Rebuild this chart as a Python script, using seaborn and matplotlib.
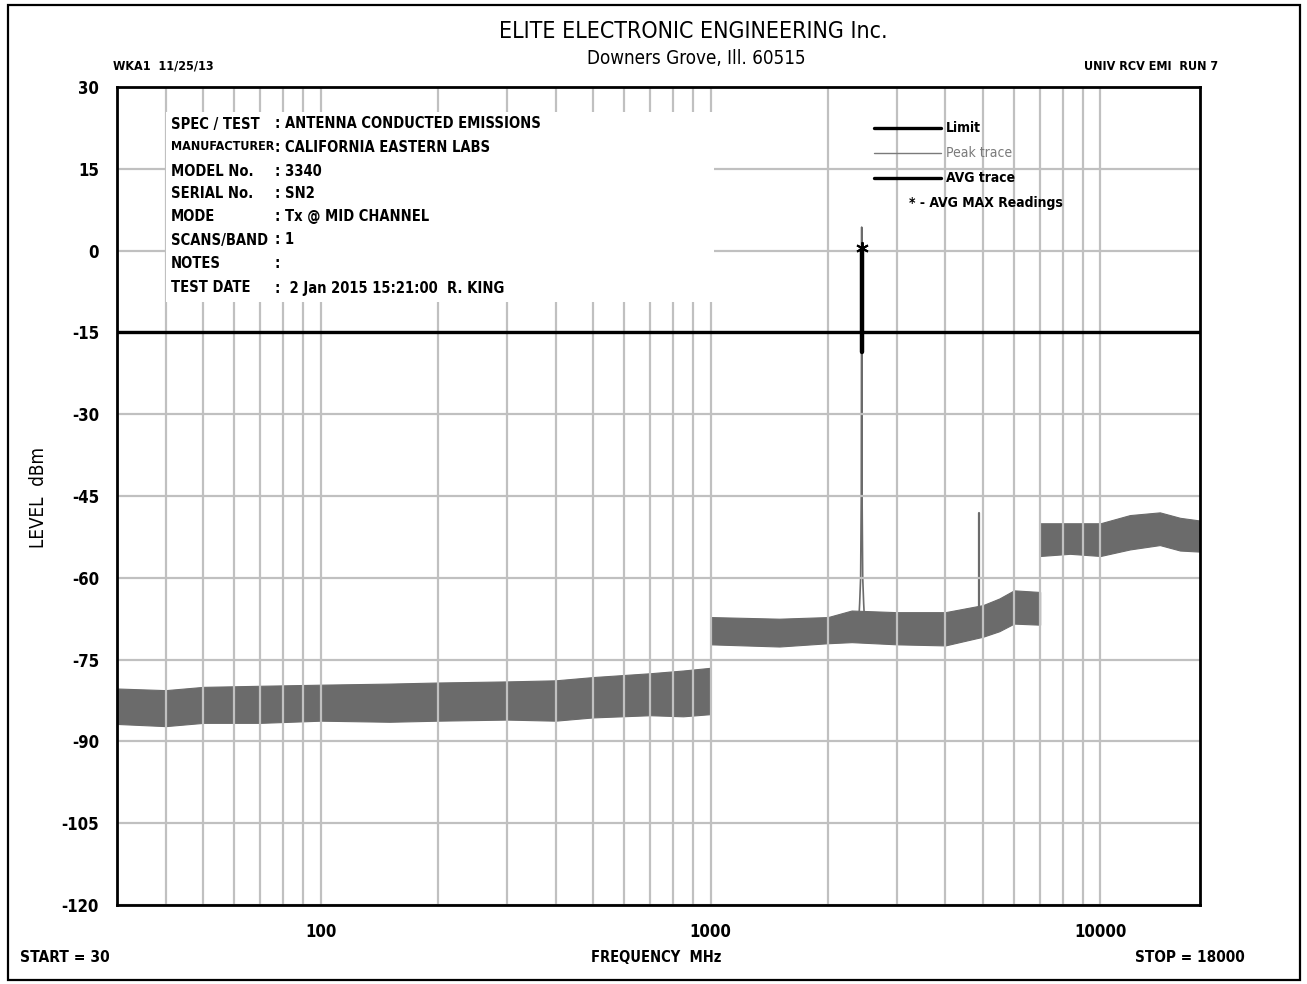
import matplotlib
matplotlib.use("Agg")
import matplotlib.pyplot as plt
import seaborn as sns
import pandas as pd
import numpy as np
from matplotlib.patches import Rectangle

# ---------------- data ----------------
seg1_freq = [30, 40, 50, 70, 100, 150, 200, 300, 400, 500, 700, 850, 1000]
seg1_upper = [-80.3, -80.6, -80.0, -79.8, -79.6, -79.4, -79.2, -79.0, -78.8, -78.2, -77.5, -77.0, -76.5]
seg1_lower = [-86.8, -87.2, -86.6, -86.6, -86.2, -86.4, -86.2, -86.0, -86.2, -85.6, -85.2, -85.4, -85.0]

seg2_freq = [1000, 1500, 2000, 2300, 3000, 4000, 5000, 5500, 6000, 7000]
seg2_upper = [-67.2, -67.5, -67.2, -66.0, -66.3, -66.3, -65.0, -63.8, -62.3, -62.6]
seg2_lower = [-72.2, -72.6, -72.0, -71.8, -72.2, -72.4, -70.8, -69.8, -68.4, -68.6]

seg3_freq = [7000, 8350, 10000, 11900, 14200, 16000, 18000]
seg3_upper = [-50.0, -50.0, -50.0, -48.5, -48.0, -49.0, -49.5]
seg3_lower = [-56.0, -55.6, -56.0, -54.8, -54.0, -55.0, -55.2]

carrier_freq = [2390, 2411, 2425, 2434, 2440, 2446, 2455, 2469, 2490]
carrier_peak = [-70.0, -64.7, -60.0, -45.0, 4.3, -45.0, -60.0, -64.7, -70.0]

harmonic_freq = [4880, 4880]
harmonic_peak = [-66.0, -48.2]

avg_freq = [2440, 2440]
avg_level = [-18.6, 0.5]

avg_max_freq = [2440]
avg_max_level = [0.5]

limit_freq = [30, 18000]
limit_level = [-15, -15]

y_ticks = [30, 15, 0, -15, -30, -45, -60, -75, -90, -105, -120]
x_major = [100, 1000, 10000]
x_major_labels = ["100", "1000", "10000"]
x_minor = [40, 50, 60, 70, 80, 90, 200, 300, 400, 500, 600, 700, 800, 900,
           2000, 3000, 4000, 5000, 6000, 7000, 8000, 9000]

info_labels = ["SPEC / TEST", "MANUFACTURER", "MODEL No.", "SERIAL No.", "MODE",
               "SCANS/BAND", "NOTES", "TEST DATE"]
info_values = [": ANTENNA CONDUCTED EMISSIONS", ": CALIFORNIA EASTERN LABS", ": 3340",
               ": SN2", ": Tx @ MID CHANNEL", ": 1", ":", ":  2 Jan 2015 15:21:00  R. KING"]

# ---------------- style ----------------
sns.set_style("white")
plt.rcParams["font.family"] = ["DejaVu Sans"]
plt.rcParams["font.stretch"] = "condensed"
plt.rcParams["text.color"] = "black"
plt.rcParams["xtick.color"] = "black"
plt.rcParams["ytick.color"] = "black"

W, H = 1307, 984
fig = plt.figure(figsize=(W / 100, H / 100), dpi=100)
fig.patch.set_facecolor("white")

L, R, T, B = 117, 1200, 87, 905
ax = fig.add_axes([L / W, 1 - B / H, (R - L) / W, (B - T) / H])
ax.set_xscale("log")
ax.set_xlim(30, 18000)
ax.set_ylim(-120, 30)

GRID = "#c0c0c0"
BAND = "#6b6b6b"

# noise bands (peak trace envelope)
for f, up, lo in [(seg1_freq, seg1_upper, seg1_lower),
                  (seg2_freq, seg2_upper, seg2_lower),
                  (seg3_freq, seg3_upper, seg3_lower)]:
    ax.fill_between(f, lo, up, color=BAND, lw=0.8, edgecolor=BAND, zorder=1)

# carrier and harmonic on peak trace
sns.lineplot(x=carrier_freq, y=carrier_peak, ax=ax, color=BAND, lw=1.2,
             estimator=None, sort=False, zorder=2)
sns.lineplot(x=harmonic_freq, y=harmonic_peak, ax=ax, color=BAND, lw=1.6,
             estimator=None, sort=False, zorder=2)

# grid drawn over the traces
ax.set_xticks(x_major)
ax.set_xticklabels(x_major_labels)
ax.set_xticks(x_minor, minor=True)
ax.set_xticklabels([], minor=True)
ax.set_yticks(y_ticks)
ax.set_yticklabels([str(v) for v in y_ticks])
ax.set_axisbelow(False)
ax.grid(which="both", axis="x", color=GRID, lw=1.6)
ax.grid(which="major", axis="y", color=GRID, lw=1.6)
ax.tick_params(which="both", length=0)
ax.tick_params(axis="y", pad=13, labelsize=12)
ax.tick_params(axis="x", pad=13, labelsize=12)
for lab in ax.get_xticklabels() + ax.get_yticklabels():
    lab.set_fontweight("bold")
    lab.set_fontstretch("condensed")

# white info box covering the grid (display pixels, origin bottom-left)
ax.add_patch(Rectangle((166, H - 302), 548, 190, transform=None,
                       facecolor="white", edgecolor="none", zorder=2.7))

# limit line
sns.lineplot(x=limit_freq, y=limit_level, ax=ax, color="black", lw=2.4,
             estimator=None, sort=False, zorder=4)
# AVG trace at carrier
sns.lineplot(x=avg_freq, y=avg_level, ax=ax, color="black", lw=3.2,
             estimator=None, sort=False, zorder=4)
ax.plot(avg_max_freq, avg_max_level, marker=(6, 2, 0), ms=9, mew=1.4,
        color="black", ls="none", zorder=5)

for s in ax.spines.values():
    s.set_color("black")
    s.set_linewidth(2.0)
    s.set_zorder(6)

ax.set_xlabel("")
ax.set_ylabel("")

def P(x, y):
    return x / W, 1 - y / H

FS_INFO = 10.5
# info block
ys = [124, 147, 171, 194, 217, 240, 264, 288]
for lab, val, y in zip(info_labels, info_values, ys):
    fs_lab = FS_INFO if len(lab) < 12 else 9.0
    fig.text(*P(171, y), lab, fontsize=fs_lab, fontweight="bold", va="center",
             ha="left", zorder=7)
    fig.text(*P(275, y), val, fontsize=FS_INFO, fontweight="bold", va="center",
             ha="left", zorder=7)

# legend
leg_rows = [(128, "Limit", "black", 2.4, "bold"),
            (153, "Peak trace", "#7a7a7a", 1.0, "normal"),
            (178, "AVG trace", "black", 2.4, "bold")]
for y, txt, col, lw, fw in leg_rows:
    fig.add_artist(plt.Line2D([874 / W, 941 / W], [1 - y / H, 1 - y / H],
                              color=col, lw=lw))
    fig.text(*P(946, y), txt, fontsize=10, fontweight=fw, color=col,
             va="center", ha="left")
fig.text(*P(909, 203), "* - AVG MAX Readings", fontsize=10, fontweight="bold",
         va="center", ha="left")

# header texts
fig.text(*P(693, 32), "ELITE ELECTRONIC ENGINEERING Inc.", fontsize=16.6,
         ha="center", va="center")
fig.text(*P(696, 58), "Downers Grove, Ill. 60515", fontsize=13.5,
         ha="center", va="center")
fig.text(*P(113, 66), "WKA1  11/25/13", fontsize=9, fontweight="bold",
         ha="left", va="center")
fig.text(*P(1218, 66), "UNIV RCV EMI  RUN 7", fontsize=9, fontweight="bold",
         ha="right", va="center")

# footer texts
fig.text(*P(20, 958), "START = 30", fontsize=11.2, fontweight="bold",
         ha="left", va="center")
fig.text(*P(656, 958), "FREQUENCY  MHz", fontsize=10.5, fontweight="bold",
         ha="center", va="center")
fig.text(*P(1245, 958), "STOP = 18000", fontsize=11, fontweight="bold",
         ha="right", va="center")
fig.text(*P(38, 497), "LEVEL  dBm", fontsize=13.5, rotation=90,
         ha="center", va="center")

# outer frame
fig.add_artist(Rectangle((8 / W, 1 - 980 / H), (1300 - 8) / W, (980 - 5) / H,
                         transform=fig.transFigure, fill=False,
                         edgecolor="black", lw=1.6))

fig.savefig("out.png", dpi=100, facecolor="white")
